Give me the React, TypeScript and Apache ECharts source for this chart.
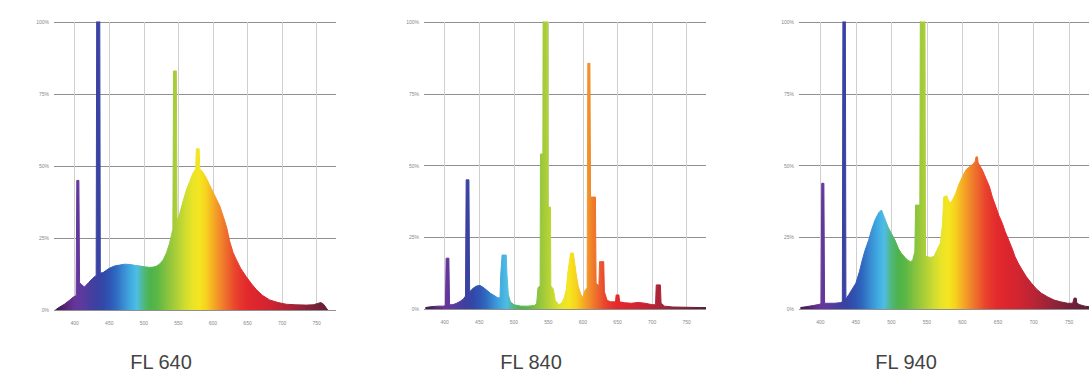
import React, { useEffect, useRef } from 'react';
import * as echarts from 'echarts';

const panelTitles = ['FL 640', 'FL 840', 'FL 940'];
const wavelengthTicks = [400, 450, 500, 550, 600, 650, 700, 750];
const percentTicks = [0, 25, 50, 75, 100];

// wavelength (nm), relative intensity (%)
const fl640: [number, number][] = [
  [372, 0], [378, 1], [385, 2], [393, 3.5], [398, 4.5], [402, 5], [403, 45], [406, 45], [407, 9.5],
  [410, 8.8], [414, 8], [420, 9.5], [426, 11], [431, 12], [432, 130], [436, 130], [437, 12.8],
  [441, 13], [450, 14.5], [458, 15.3], [465, 15.6], [472, 15.9], [480, 15.8], [487, 15.5],
  [494, 15.3], [501, 15], [508, 14.8], [514, 14.9], [518, 15.2], [523, 16], [528, 17.4],
  [533, 20], [537, 23], [540, 26], [542, 28], [543, 83], [547, 83], [548, 31], [552, 33.6],
  [557, 38], [562, 42], [567, 45], [571, 47.5], [575, 49], [576, 56], [580, 56], [581, 49],
  [585, 48], [590, 46], [595, 43.5], [600, 41], [605, 38.5], [610, 36], [615, 32.4], [620, 28.5],
  [624, 24], [629, 20], [634, 17.4], [640, 14.5], [648, 11.6], [656, 9], [663, 7], [672, 5],
  [682, 3.5], [694, 2.6], [706, 2], [720, 1.8], [735, 1.7], [745, 1.8], [752, 2.3], [756, 2.6],
  [760, 2], [763, 1], [766, 0],
];

const fl840: [number, number][] = [
  [372, 0.5], [380, 0.8], [390, 1], [398, 1], [401, 1.2], [402, 17.7], [406, 17.7], [407, 1.5],
  [412, 1.5], [417, 2], [422, 2.6], [427, 3.5], [430, 4.5], [431, 45], [435, 45], [436, 6],
  [441, 7.2], [446, 8], [451, 8.2], [456, 7.5], [461, 6.5], [466, 5.5], [471, 4.8], [476, 4],
  [480, 3.8], [481, 12], [483, 18.8], [489, 18.8], [490, 12], [492, 5], [495, 2.5], [500, 1.5],
  [510, 1], [520, 1], [530, 1.2], [533, 2], [535, 7.5], [538, 8], [538.5, 54], [542, 54],
  [542.5, 130], [549, 130], [549.5, 35.5], [553, 35.5], [553.5, 8], [557, 7], [560, 3],
  [565, 1.5], [569, 2], [573, 4], [576, 7], [578, 12.5], [580, 16], [582, 19.5], [586, 19.5],
  [588, 16], [590, 12.5], [593, 8], [597, 5], [600, 4], [603, 6.5], [606, 7.3], [607, 85.6],
  [610, 85.6], [611, 39], [618, 39], [619, 9], [623, 8], [624, 16.5], [630, 16.5], [631, 6],
  [635, 3], [640, 2.5], [647, 2.5], [648, 4.9], [652, 4.9], [653, 2.5], [660, 2.2], [670, 2],
  [680, 2.3], [690, 2], [700, 1.5], [705, 1.5], [706, 8.4], [712, 8.4], [713, 2], [718, 1],
  [730, 0.7], [750, 0.6], [770, 0.5], [778, 0.5],
];

const fl940: [number, number][] = [
  [372, 0.5], [380, 0.8], [390, 1.2], [398, 1.6], [401, 1.8], [402, 43.8], [405, 43.8], [406, 2],
  [412, 2], [420, 2], [428, 2.2], [431, 2.5], [432, 130], [435, 130], [436, 3.5], [440, 5],
  [445, 7], [450, 9], [455, 13], [459, 17], [463, 20.5], [468, 24], [472, 27.5], [477, 31],
  [482, 33.5], [486, 34.5], [490, 32], [495, 28.7], [500, 26.3], [505, 24], [510, 21],
  [514, 19.4], [519, 18], [523, 17], [527, 16.5], [530, 17], [533, 20], [534, 36.2], [540, 36.2],
  [541, 130], [547, 130], [548, 18.5], [550, 18.2], [555, 18], [560, 18.3], [564, 20.5],
  [569, 23], [572, 30], [573.5, 39], [578, 39.5], [580, 38], [583, 36.9], [586, 38], [590, 40],
  [595, 43.5], [601, 46.7], [605, 48.5], [610, 49.6], [615, 50.5], [618, 51.5], [619, 53],
  [621, 53], [622, 51], [628, 48.4], [633, 45.5], [638, 42.6], [642, 39], [647, 35.6],
  [651, 32.7], [656, 29.9], [660, 27], [665, 24], [670, 21], [674, 18.2], [679, 15.7],
  [684, 13.6], [690, 11.2], [697, 9], [704, 7], [711, 5.5], [720, 4.2], [729, 3.1], [738, 2.5],
  [748, 2], [755, 2], [757, 3.8], [760, 3.8], [761, 2], [765, 1.5], [772, 1], [778, 0.8],
];

const spectra = [fl640, fl840, fl940];

// spectral colours, every 10 nm from 370 to 780
const spectrumColors = [
  '#3a1748', '#4b1e63', '#5a2a80', '#66359a', '#5e3a9e', '#4c3d9f', '#3e40a0', '#3446a8',
  '#2f55b3', '#2e6bc0', '#3a8ad2', '#3fa9df', '#4fbde6', '#50b87a', '#4db34a', '#5ab845',
  '#7cc040', '#9ac83c', '#b4d236', '#cfdc30', '#e8e428', '#f5e520', '#f7d21e', '#f5ad25',
  '#f18a2a', '#ee6a2c', '#ea4a2d', '#e6352d', '#e2292c', '#de262d', '#d8252f', '#d02531',
  '#c62433', '#ba2435', '#ac2437', '#9e2438', '#902339', '#822238', '#752137', '#6a2036',
  '#5f1f34', '#551e32',
];

const grids = [
  { left: 54, width: 282, top: 22, height: 288 },
  { left: 424, width: 282, top: 22, height: 287 },
  { left: 799, width: 297, top: 22, height: 287 },
];
const titlePos = [
  [161, 362],
  [531, 362],
  [906, 362],
];

export default function App() {
  const ref = useRef<HTMLDivElement>(null);
  useEffect(() => {
    const chart = echarts.init(ref.current!, null, { renderer: 'svg' });
    chart.setOption({
      animation: false,
      backgroundColor: '#ffffff',
      grid: grids,
      xAxis: grids.map((_, i) => ({
        gridIndex: i,
        type: 'value',
        min: 370,
        max: 778,
        axisLine: { show: false },
        axisTick: { show: false, customValues: wavelengthTicks },
        axisLabel: { customValues: wavelengthTicks, fontSize: 5, color: '#888', margin: 10 },
        splitLine: { show: true, lineStyle: { color: '#cfcfcf', width: 1 } },
      })),
      yAxis: grids.map((_, i) => ({
        gridIndex: i,
        type: 'value',
        min: percentTicks[0],
        max: percentTicks[percentTicks.length - 1],
        interval: 25,
        axisLine: { show: false },
        axisTick: { show: false },
        axisLabel: { formatter: '{value}%', fontSize: 5, color: '#888', margin: 5 },
        splitLine: { show: true, lineStyle: { color: '#8f8f8f', width: 1 } },
      })),
      visualMap: {
        type: 'continuous',
        show: false,
        dimension: 0,
        min: 370,
        max: 780,
        seriesIndex: [0, 1, 2],
        inRange: { color: spectrumColors },
      },
      series: spectra.map((d, i) => ({
        type: 'line',
        xAxisIndex: i,
        yAxisIndex: i,
        data: d,
        showSymbol: false,
        clip: true,
        lineStyle: { width: 1 },
        areaStyle: { opacity: 1 },
      })),
      graphic: panelTitles.map((t, i) => ({
        type: 'text',
        x: titlePos[i][0],
        y: titlePos[i][1],
        style: {
          text: t,
          font: '300 20px "Liberation Sans", sans-serif',
          fill: '#444',
          align: 'center',
          verticalAlign: 'middle',
        },
      })),
    });
    return () => chart.dispose();
  }, []);
  return <div ref={ref} style={{ position: 'fixed', left: 0, top: 0, width: 1089, height: 374 }} />;
}
